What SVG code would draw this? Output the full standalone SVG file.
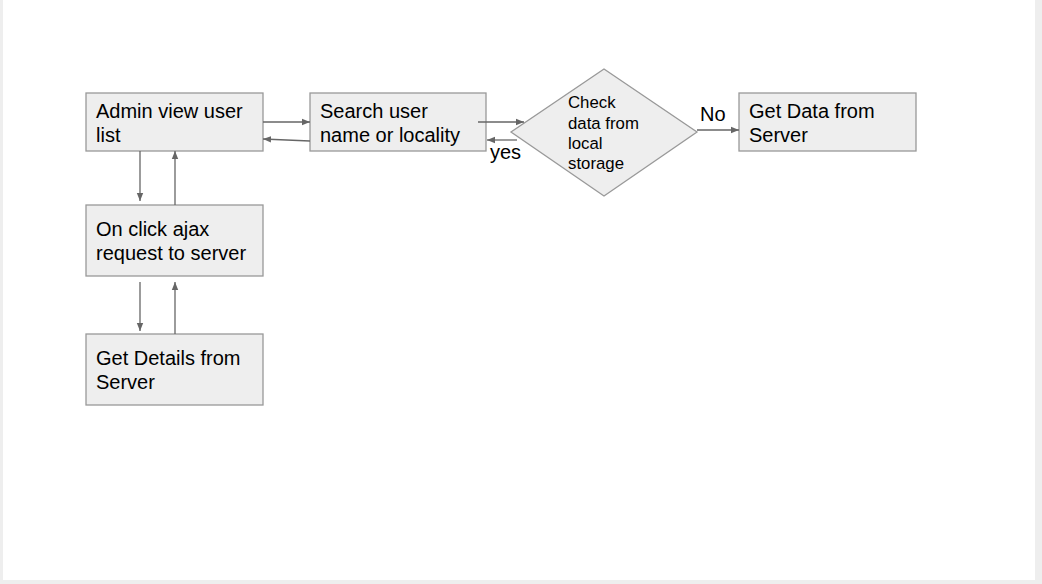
<svg xmlns="http://www.w3.org/2000/svg" width="1042" height="584" viewBox="0 0 1042 584">
<defs>
<style>
.node rect,.node polygon{fill:#eeeeee;stroke:#999999;stroke-width:1.3}
.t{font-family:"Liberation Sans",Arial,sans-serif;font-size:20px;fill:#000}
.s{font-family:"Liberation Sans",Arial,sans-serif;font-size:16.8px;fill:#000}
.c line{stroke:#666666;stroke-width:1.3}
</style>
<marker id="ah" viewBox="0 0 10 10" refX="10" refY="5" markerWidth="8" markerHeight="8" markerUnits="userSpaceOnUse" orient="auto"><path d="M0,1 L10,5 L0,9 Z" fill="#666666"/></marker>
</defs>
<rect x="0" y="0" width="1042" height="584" fill="#eeeeee"/>
<rect x="3" y="0" width="1032" height="580" fill="#ffffff"/>
<g id="admin" class="node"><rect x="86" y="93" width="177" height="58"/><text class="t" x="96" y="118">Admin view user</text><text class="t" x="96" y="142">list</text></g>
<g id="search" class="node"><rect x="310" y="93" width="176" height="58"/><text class="t" x="320" y="118">Search user</text><text class="t" x="320" y="142">name or locality</text></g>
<g id="check" class="node"><polygon points="604,69 697,132 604,196 511,132"/><text class="s" x="568" y="108">Check</text><text class="s" x="568" y="129">data from</text><text class="s" x="568" y="149">local</text><text class="s" x="568" y="169">storage</text></g>
<g id="getdata" class="node"><rect x="739" y="93" width="177" height="58"/><text class="t" x="749" y="118">Get Data from</text><text class="t" x="749" y="142">Server</text></g>
<g id="ajax" class="node"><rect x="86" y="205" width="177" height="71"/><text class="t" x="96" y="236">On click ajax</text><text class="t" x="96" y="260">request to server</text></g>
<g id="details" class="node"><rect x="86" y="334" width="177" height="71"/><text class="t" x="96" y="365">Get Details from</text><text class="t" x="96" y="389">Server</text></g>
<g id="connectors" class="c">
<line x1="263" y1="122" x2="310" y2="122" marker-end="url(#ah)"/>
<line x1="310" y1="141" x2="263" y2="139" marker-end="url(#ah)"/>
<line x1="478" y1="122" x2="524" y2="122" marker-end="url(#ah)"/>
<line x1="517" y1="140" x2="487" y2="140" marker-end="url(#ah)"/>
<line x1="697" y1="130" x2="739" y2="130" marker-end="url(#ah)"/>
<line x1="140" y1="151" x2="140" y2="201" marker-end="url(#ah)"/>
<line x1="175" y1="205" x2="175" y2="151" marker-end="url(#ah)"/>
<line x1="140" y1="282" x2="140" y2="331" marker-end="url(#ah)"/>
<line x1="175" y1="334" x2="175" y2="282" marker-end="url(#ah)"/>
<text class="t" x="490" y="159">yes</text>
<text class="t" x="700" y="121">No</text>
</g>
</svg>
